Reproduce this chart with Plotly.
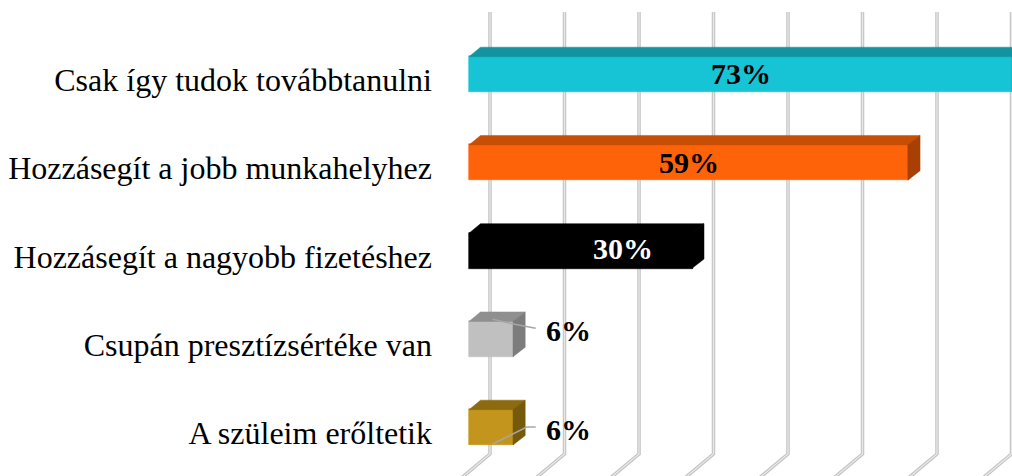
import plotly.graph_objects as go

# ---- data ----
categories = [
    "Csak így tudok továbbtanulni",
    "Hozzásegít a jobb munkahelyhez",
    "Hozzásegít a nagyobb fizetéshez",
    "Csupán presztízsértéke van",
    "A szüleim erőltetik",
]
values = [73, 59, 30, 6, 6]
value_labels = ["73%", "59%", "30%", "6%", "6%"]

# ---- styles ----
front_colors = ["#17c4d6", "#ff6309", "#000000", "#c0c0c0", "#c3951c"]
top_colors = ["#12939f", "#c84e06", "#000000", "#8f8f8f", "#8c6a10"]
side_colors = ["#0f7f8a", "#a84004", "#000000", "#7c7c7c", "#77590b"]
label_colors = ["black", "black", "white", "black", "black"]
label_inside = [True, True, True, False, False]
label_shift_px = [0, 0, 42, 0, 0]
label_dy_px = [-1, 0, -2, -8, 2]

W, H = 1012, 476
X0PX, SX = 469.0, 7.45        # pixel of value 0 (front plane), pixels per %
Y0PX, SY = 74.0, 88.25        # pixel of first category centre, pixels per category
L_MARGIN = 440
SERIF = "Liberation Serif, Times New Roman, serif"

def xd(px):
    return (px - X0PX) / SX

def yd(py):
    return (py - Y0PX) / SY

bar_w = 36 / SY
ddx = 11.5 / SX
ddy = 9.5 / SY
seam_y = 0.7 / SY
seam_x = 0.7 / SX

fig = go.Figure()

# front faces
fig.add_trace(go.Bar(
    y=list(range(len(categories))), x=values, orientation="h",
    width=bar_w, marker=dict(color=front_colors, line=dict(width=0.6, color=front_colors)),
    hoverinfo="skip", showlegend=False,
))

# top and side faces (3-D effect)
for i, v in enumerate(values):
    yt = i - bar_w / 2 + seam_y
    yb = i + bar_w / 2
    fig.add_trace(go.Scatter(
        x=[0, ddx, v + ddx, v, 0], y=[yt, yt - ddy, yt - ddy, yt, yt],
        fill="toself", mode="lines", fillcolor=top_colors[i],
        line=dict(color=top_colors[i], width=0.5), hoverinfo="skip", showlegend=False,
    ))
    xs = v - seam_x
    fig.add_trace(go.Scatter(
        x=[xs, v + ddx, v + ddx, xs, xs], y=[yt, yt - ddy, yb - ddy, yb, yt],
        fill="toself", mode="lines", fillcolor=side_colors[i],
        line=dict(color=side_colors[i], width=0.5), hoverinfo="skip", showlegend=False,
    ))

# back-wall gridlines (every 10%) with floor diagonals
shapes = []
wall_dx = xd(490) - xd(469)
for k in range(0, 9):
    gx = 10 * k + wall_dx
    path = (f"M {gx},{yd(12)} L {gx},{yd(454)} "
            f"L {gx - 31 / SX},{yd(480)}")
    shapes.append(dict(type="path", path=path, xref="x", yref="y", layer="below",
                       line=dict(color="#c2c2c2", width=3.5)))
    shapes.append(dict(type="path", path=path, xref="x", yref="y", layer="below",
                       line=dict(color="#e8e8e8", width=1.3)))

# data labels
annotations = []
for i, v in enumerate(values):
    if label_inside[i]:
        ax = v / 2 + label_shift_px[i] / SX
        anchor = "center"
    else:
        ax = v + 30 / SX
        anchor = "left"
    annotations.append(dict(
        x=ax, y=i + label_dy_px[i] / SY, xref="x", yref="y",
        text=f"<b>{value_labels[i]}</b>", showarrow=False, xanchor=anchor, yanchor="middle",
        font=dict(family=SERIF, size=30, color=label_colors[i]),
    ))

# leader lines for outside labels
leader_offsets = {
    3: [(22, -10.5), (1, -14.5), (-21, -19.5)],
    4: [(22, 0), (13, 0), (-21, 17)],
}
for i, pts in leader_offsets.items():
    endpx = X0PX + values[i] * SX
    cy = Y0PX + i * SY
    path = "M " + " L ".join(f"{xd(endpx + dx)},{yd(cy + dy)}" for dx, dy in pts)
    shapes.append(dict(type="path", path=path, xref="x", yref="y", layer="above",
                       line=dict(color="#a6a6a6", width=1.5)))

fig.update_layout(
    width=W, height=H,
    margin=dict(l=L_MARGIN, r=0, t=0, b=0, autoexpand=False),
    paper_bgcolor="white", plot_bgcolor="white",
    shapes=shapes, annotations=annotations,
    bargap=0,
    xaxis=dict(range=[xd(L_MARGIN), xd(W)], showgrid=False, zeroline=False,
               showticklabels=False, showline=False, fixedrange=True),
    yaxis=dict(range=[yd(H), yd(0)], showgrid=False, zeroline=False, showline=False,
               automargin=False, fixedrange=True,
               tickmode="array",
               tickvals=[i + 6 / SY for i in range(len(categories))],
               ticktext=categories, ticks="", ticklabelstandoff=7,
               tickfont=dict(family=SERIF, size=32, color="black")),
)

fig.write_html("out.html",
               config={"displayModeBar": False},
               post_script="document.body.style.margin='0';document.body.style.padding='0';")
